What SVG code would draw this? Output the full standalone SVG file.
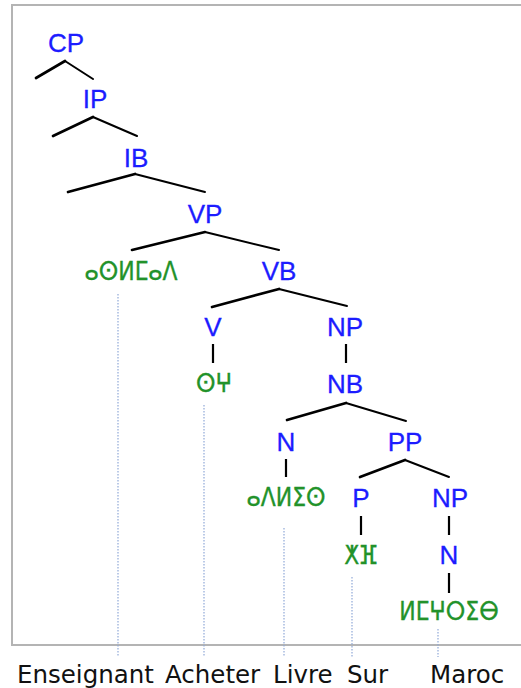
<svg xmlns="http://www.w3.org/2000/svg" width="521" height="688" viewBox="0 0 521 688">
  <style>
    .cat { font-family: "Liberation Sans", Arial, sans-serif; font-size: 26px; fill: #1c1cff; stroke: #1c1cff; stroke-width: 0.3; text-anchor: middle; }
    .tfng { font-family: "DejaVu Sans", sans-serif; font-size: 22px; fill: #22922a; stroke: #22922a; stroke-width: 0.3; text-anchor: middle; }
    .gloss { font-family: "DejaVu Sans", sans-serif; font-size: 24.5px; fill: #111; }
    .arm-l { stroke: #000; stroke-width: 2.7; fill: none; stroke-linecap: round; }
    .arm-r { stroke: #000; stroke-width: 2; fill: none; stroke-linecap: round; }
    .stem { stroke: #000; stroke-width: 2.2; fill: none; }
    .guide { stroke: #8fa8d8; stroke-width: 1.2; stroke-dasharray: 1.5 1.5; fill: none; }
    .frame { stroke: #b4b4b4; stroke-width: 2; fill: #fff; }
  </style>

  <rect width="521" height="688" fill="#fff"/>
  <!-- tree frame (open on the right) -->
  <rect class="frame" x="12" y="5" width="520" height="640"/>

  <!-- guide lines from words to glosses -->
  <g id="guides">
    <line class="guide" x1="118" y1="294" x2="118" y2="657"/>
    <line class="guide" x1="204" y1="405" x2="204" y2="657"/>
    <line class="guide" x1="284" y1="528" x2="284" y2="657"/>
    <line class="guide" x1="352" y1="577" x2="352" y2="657"/>
    <line class="guide" x1="438" y1="629" x2="438" y2="657"/>
  </g>

  <!-- branches -->
  <g id="connectors">
    <line class="arm-l" x1="36" y1="78" x2="65" y2="61"/>
    <line class="arm-r" x1="65" y1="61" x2="93" y2="79"/>
    <line class="arm-l" x1="53" y1="136" x2="93" y2="117"/>
    <line class="arm-r" x1="93" y1="117" x2="137" y2="136"/>
    <line class="arm-l" x1="68" y1="192" x2="135" y2="174"/>
    <line class="arm-r" x1="135" y1="174" x2="205" y2="192"/>
    <line class="arm-l" x1="132" y1="250" x2="205" y2="232"/>
    <line class="arm-r" x1="205" y1="232" x2="279" y2="250"/>
    <line class="arm-l" x1="212" y1="307" x2="279" y2="289"/>
    <line class="arm-r" x1="279" y1="289" x2="347" y2="306"/>
    <line class="arm-l" x1="287" y1="420" x2="346" y2="403"/>
    <line class="arm-r" x1="346" y1="403" x2="406" y2="421"/>
    <line class="arm-l" x1="360" y1="477" x2="405" y2="460"/>
    <line class="arm-r" x1="405" y1="460" x2="449" y2="477"/>
    <line class="stem" x1="213" y1="344" x2="213" y2="363"/>
    <line class="stem" x1="346" y1="344" x2="346" y2="363"/>
    <line class="stem" x1="286" y1="459" x2="286" y2="477"/>
    <line class="stem" x1="361" y1="516" x2="361" y2="535"/>
    <line class="stem" x1="449" y1="516" x2="449" y2="535"/>
    <line class="stem" x1="449" y1="573" x2="449" y2="593"/>
  </g>

  <!-- category nodes -->
  <g id="n-cp"><text class="cat" x="66" y="52">CP</text></g>
  <g id="n-ip"><text class="cat" x="95" y="108">IP</text></g>
  <g id="n-ib"><text class="cat" x="136" y="167">IB</text></g>
  <g id="n-vp"><text class="cat" x="205" y="223">VP</text></g>
  <g id="n-vb"><text class="cat" x="279" y="280">VB</text></g>
  <g id="n-v"><text class="cat" x="213" y="336">V</text></g>
  <g id="n-np1"><text class="cat" x="345" y="336">NP</text></g>
  <g id="n-nb"><text class="cat" x="345" y="393">NB</text></g>
  <g id="n-n1"><text class="cat" x="286" y="451">N</text></g>
  <g id="n-pp"><text class="cat" x="405" y="451">PP</text></g>
  <g id="n-p"><text class="cat" x="361" y="507">P</text></g>
  <g id="n-np2"><text class="cat" x="450" y="507">NP</text></g>
  <g id="n-n2"><text class="cat" x="449" y="564">N</text></g>

  <!-- Tifinagh words (slightly stretched vertically) -->
  <g id="w-aselmad"><text class="tfng" transform="translate(131,280) scale(1,1.18)">ⴰⵙⵍⵎⴰⴷ</text></g>
  <g id="w-sgh"><text class="tfng" transform="translate(214,392) scale(1,1.18)">ⵙⵖ</text></g>
  <g id="w-adlis"><text class="tfng" transform="translate(286,506) scale(1,1.18)">ⴰⴷⵍⵉⵙ</text></g>
  <g id="w-xf"><text class="tfng" transform="translate(361,564) scale(1,1.18)">ⵅⴼ</text></g>
  <g id="w-lmghrib"><text class="tfng" transform="translate(449,620) scale(1,1.18)">ⵍⵎⵖⵔⵉⴱ</text></g>

  <!-- French glosses -->
  <g id="glosses">
    <text class="gloss" x="17" y="683">Enseignant</text>
    <text class="gloss" x="165" y="683">Acheter</text>
    <text class="gloss" x="273" y="683">Livre</text>
    <text class="gloss" x="347" y="683">Sur</text>
    <text class="gloss" x="430" y="683">Maroc</text>
  </g>
</svg>
